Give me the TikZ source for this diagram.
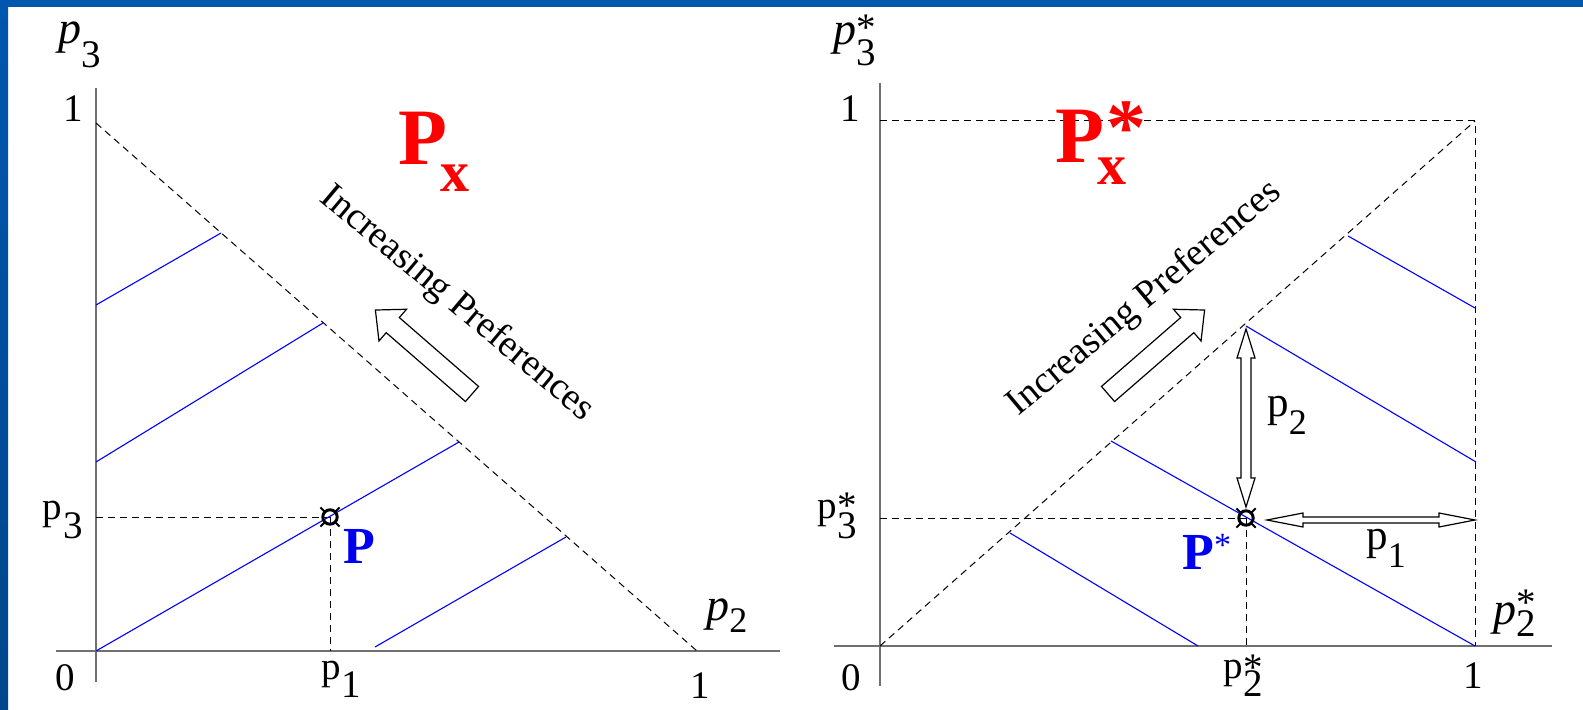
\documentclass[tikz,border=0pt]{standalone}
\usepackage{fontspec}
\setmainfont{Liberation Serif}
\usetikzlibrary{calc}
\definecolor{bandblue}{HTML}{0057AE}
\definecolor{banddark}{HTML}{00468C}
\definecolor{axisgray}{HTML}{707070}
\definecolor{pblue}{HTML}{0000F0}
\newcommand\fsz[1]{\fontsize{#1}{#1}\selectfont}
\newcommand\cmark[1]{%
  \draw[line width=1.5pt] (#1) circle[radius=3.6pt];
  \foreach \a in {45,135,225,315}
    \draw[line width=1pt] ($(#1)+(\a:4pt)$) -- ($(#1)+(\a:6.8pt)$);}
\begin{document}
\begin{tikzpicture}[x=0.5pt,y=-0.5pt,
  axisv/.style={draw=axisgray, line width=0.55pt},
  axish/.style={draw=axisgray, line width=0.75pt},
  guide/.style={draw=black, line width=0.5pt, dash pattern=on 3.5pt off 2.5pt},
  iso/.style={draw=blue, line width=0.55pt},
  blockarrow/.style={draw=black, fill=white, line width=0.6pt, line join=miter},
  lbl/.style={inner sep=0pt, anchor=base west, font=\fsz{19.5}},
  num/.style={inner sep=0pt, anchor=base, font=\fsz{19.5}},
  rot/.style={inner sep=0pt, font=\fsz{19}}]
\useasboundingbox (0,0) rectangle (1583,710);
\fill[white] (0,0) rectangle (1583,710);
% frame bands
\fill[bandblue] (0,0) rectangle (1583,7);
\shade[top color=bandblue, bottom color=banddark] (0,0) rectangle (8,710);

% ---------------- left diagram ----------------
\coordinate (OL) at (96,651);
\coordinate (YL) at (96,123);
\coordinate (XL) at (697,651);
\coordinate (PL) at (330,517);
\draw[axisv] (96,88) -- (96,682);
\draw[axish] (56,651) -- (780,651);
\draw[guide] (YL) -- (XL);
\draw[guide] (OL |- PL) -- (PL);
\draw[guide] (PL) -- (PL |- OL);
% iso lines
\draw[iso] (OL) -- (459,442);
\draw[iso] (96,462) -- (323,323);
\draw[iso] (96,305) -- (221,233);
\draw[iso] (375,647) -- (566,537);
\cmark{PL}
% block arrow
\coordinate (tailL) at (472,394);
\begin{scope}[shift={(tailL)}, rotate=139, x=0.5pt, y=0.5pt]
  \draw[blockarrow] (0,-10) -- (105,-10) -- (105,-21) -- (128,0) -- (105,21) -- (105,10) -- (0,10) -- cycle;
\end{scope}
\node[rot, rotate=-40] (incL) at (457,304) {Increasing Preferences};
% labels
\node[lbl] (p3top) at (58,44) {\fsz{23}\itshape p\raisebox{-12pt}{\fsz{19.5}\upshape 3}};
\node[num] (oneYL) at (73,122) {1};
\node[lbl] (p3L) at (42,519) {p\kern1pt\raisebox{-9.5pt}{3}};
\node[num] (zeroL) at (65,690) {0};
\node[lbl] (p1L) at (321,679) {p\kern0.5pt\raisebox{-9pt}{1}};
\node[num] (oneXL) at (700,698) {1};
\node[lbl] (p2L) at (706,620) {\fsz{23}\itshape p\raisebox{-6pt}{\fsz{18}\upshape 2}};
\node[lbl, font=\fsz{26}\bfseries, text=pblue] (PLlab) at (343,563) {P};
\node[lbl, font=\fsz{40}\bfseries, text=red] (PxL) at (398,165) {P};
\node[lbl, font=\fsz{29}\bfseries, text=red] (xL) at (440,192) {x};

% ---------------- right diagram ----------------
\coordinate (OR) at (880,646);
\coordinate (YR) at (880,121);
\coordinate (CR) at (1475,121);
\coordinate (XR) at (1475,646);
\coordinate (PR) at (1246,518);
\draw[axisv] (880,83) -- (880,686);
\draw[axish] (834,646) -- (1552,646);
\draw[guide] (YR) -- (CR) -- (XR);
\draw[guide] (OR) -- (CR);
\draw[guide] (OR |- PR) -- (PR);
\draw[guide] (PR) -- (PR |- OR);
% iso lines
\draw[iso] (1348,236) -- (1475,308);
\draw[iso] (1246,326) -- (1476,462);
\draw[iso] (1111,441) -- (XR);
\draw[iso] (1010,533) -- (1198,646);
\cmark{PR}
% block arrow
\coordinate (tailR) at (1108,394);
\begin{scope}[shift={(tailR)}, rotate=41, x=0.5pt, y=0.5pt]
  \draw[blockarrow] (0,-10) -- (105,-10) -- (105,-21) -- (128,0) -- (105,21) -- (105,10) -- (0,10) -- cycle;
\end{scope}
\node[rot, rotate=40] (incR) at (1145,299) {Increasing Preferences};
% double arrows
\draw[blockarrow] (1246,329) -- (1255,358) -- (1251,358) -- (1251,478) -- (1255,478) -- (1246,507)
   -- (1237,478) -- (1241,478) -- (1241,358) -- (1237,358) -- cycle;
\draw[blockarrow] (1267,520) -- (1303,513) -- (1303,517) -- (1439,517) -- (1439,513) -- (1475,520)
   -- (1439,527) -- (1439,523) -- (1303,523) -- (1303,527) -- cycle;
% labels
\node[lbl] (p3sT) at (833,45) {\fsz{23}\itshape p\rlap{\upshape\fsz{19.5}\raisebox{2pt}{*}}\raisebox{-10.5pt}{\fsz{19.5}\upshape 3}};
\node[num] (oneYR) at (850,122) {1};
\node[lbl] (p3sL) at (817,518) {p\kern0.5pt\rlap{\raisebox{0pt}{*}}\raisebox{-10pt}{3}};
\node[num] (zeroR) at (851,690) {0};
\node[lbl] (p2sB) at (1223,678) {p\kern0.5pt\rlap{\raisebox{-1pt}{*}}\raisebox{-9pt}{2}};
\node[num] (oneXR) at (1473,688) {1};
\node[lbl] (p2sR) at (1493,624) {\fsz{23}\itshape p\rlap{\upshape\fsz{19.5}\raisebox{4.5pt}{*}}\raisebox{-6pt}{\upshape\fsz{19.5}2}};
\node[lbl, font=\fsz{26}\bfseries, text=pblue] (PRlab) at (1182,569) {P\raisebox{6.5pt}{\fsz{17}\mdseries *}};
\node[lbl, font=\fsz{40}\bfseries, text=red] (PxR) at (1055,163) {P};
\node[lbl, font=\fsz{29}\bfseries, text=red] (xR) at (1097,185) {x};
\node[lbl, font=\fsz{40}\bfseries, text=red] (starR) at (1106,155) {*};
\node[lbl] (p2arr) at (1267,417) {\fsz{21.5}p\raisebox{-9pt}{\fsz{18}2}};
\node[lbl] (p1arr) at (1366,549) {\fsz{21.5}p\raisebox{-9pt}{\fsz{18}1}};
\end{tikzpicture}
\end{document}
